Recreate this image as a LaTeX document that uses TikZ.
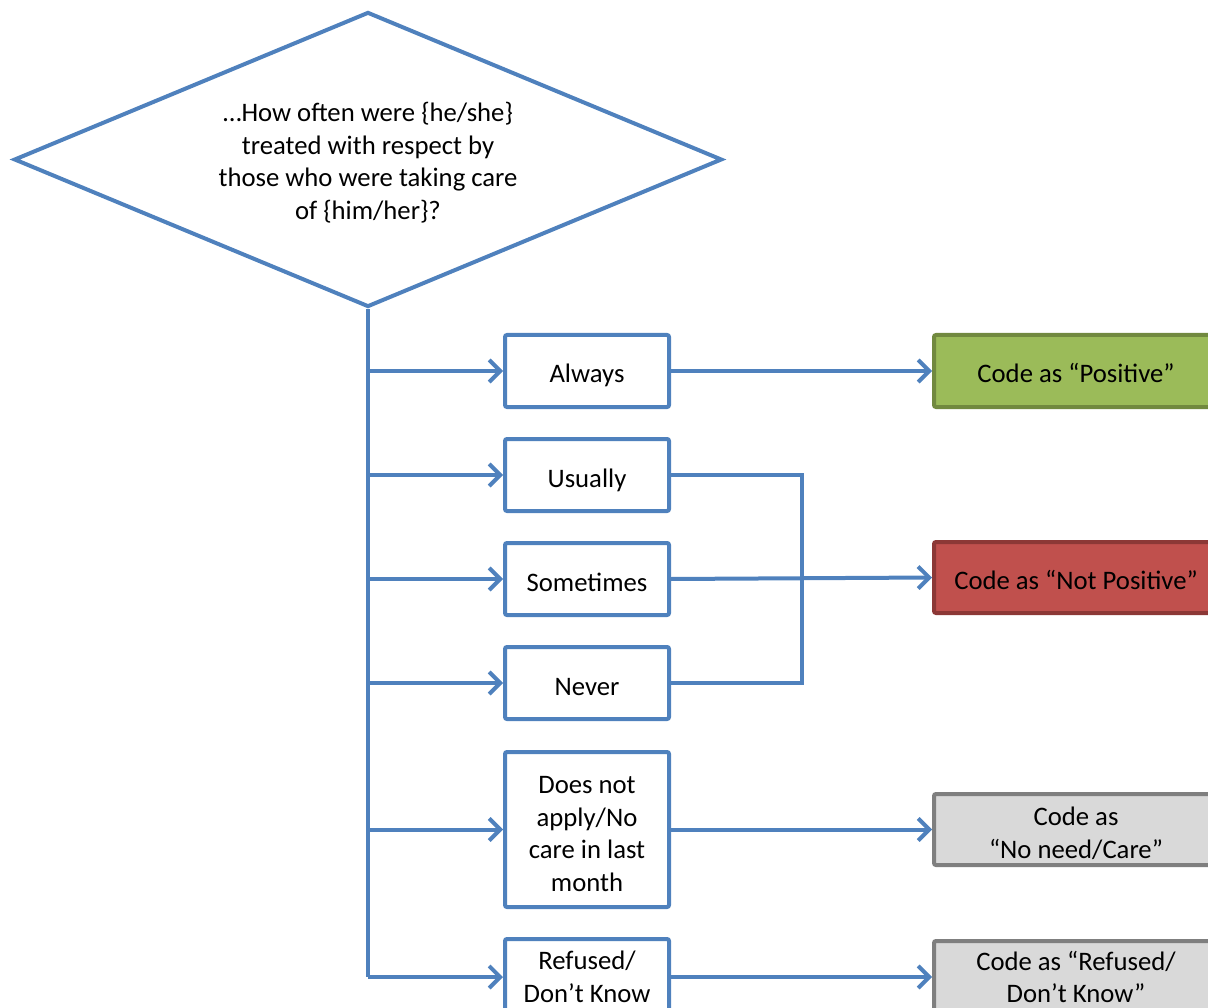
\documentclass[tikz,border=0pt]{standalone}
\usepackage{fontspec}
\setmainfont{Carlito}
\usetikzlibrary{arrows.meta,shapes.geometric}

\definecolor{flowblue}{HTML}{4F81BD}
\definecolor{posfill}{HTML}{9BBB59}
\definecolor{posline}{HTML}{71893F}
\definecolor{negfill}{HTML}{C0504D}
\definecolor{negline}{HTML}{8C3836}
\definecolor{nafill}{HTML}{D9D9D9}
\definecolor{naline}{HTML}{7F7F7F}

% strut that lowers the first line of a text block a little
\newcommand{\firstline}{\rule{0pt}{26pt}}

\tikzset{
  every node/.style={font=\fontsize{26.7}{32.5}\selectfont, align=center, inner sep=0pt},
  oneline/.style={text height=29pt, text depth=5pt},
  answer/.style={draw=flowblue, line width=4pt, rounded corners=2pt, fill=white,
                 minimum width=164pt},
  outcome/.style={line width=4pt, rounded corners=2pt, minimum width=284pt},
  flow/.style={draw=flowblue, line width=4pt},
  flowarrow/.style={flow, -{Straight Barb[length=11pt,width=22pt]}},
}

\begin{document}
\begin{tikzpicture}[x=1pt, y=-1pt]
  \useasboundingbox (0,0) rectangle (1208,1008);
  \clip (0,0) rectangle (1208,1008);

  % question
  \node[diamond, draw=flowblue, line width=4pt, aspect=2.4,
        minimum width=708pt, minimum height=295pt] (q) at (368,159.5)
    {\firstline…How often were \{he/she\}\\treated with respect by\\those who were taking care\\of \{him/her\}?};

  % answer boxes
  \node[answer, oneline, minimum height=72pt]  (alw) at (587,371) {Always};
  \node[answer, oneline, minimum height=72pt]  (usu) at (587,475) {Usually};
  \node[answer, oneline, minimum height=72pt]  (som) at (587,579) {Sometimes};
  \node[answer, oneline, minimum height=72pt]  (nev) at (587,683) {Never};
  \node[answer, minimum height=155pt] (dna) at (587,829.5) {\firstline Does not\\apply/No\\care in last\\month};
  \node[answer, minimum height=76pt]  (ref) at (587,977) {Refused/\\Don’t Know};

  % coding boxes
  \node[outcome, oneline, draw=posline, fill=posfill, minimum height=72pt] (pos) at (1076,371) {Code as “Positive”};
  \node[outcome, oneline, draw=negline, fill=negfill, minimum height=71pt] (neg) at (1076,577.5) {Code as “Not Positive”};
  \node[outcome, draw=naline, fill=nafill, minimum height=71pt]   (nnc) at (1076,829.5) {\firstline Code as\\“No need/Care”};
  \node[outcome, draw=naline, fill=nafill, minimum height=72pt]   (rdk) at (1076,977) {Code as “Refused/\\Don’t Know”};

  % trunk and branches
  \draw[flow] (q.south) -- (q.south |- ref.west);
  \foreach \a in {alw,usu,som,nev,dna,ref}
    \draw[flowarrow] (q.south |- \a.west) -- (\a.west);

  % answers to codes
  \coordinate (bx) at (802,579);
  \draw[flow] (usu.east) -| (bx) |- (nev.east);
  \draw[flowarrow] (alw.east) -- (pos.west);
  \draw[flowarrow] (som.east) -- (neg.west);
  \draw[flowarrow] (dna.east) -- (nnc.west);
  \draw[flowarrow] (ref.east) -- (rdk.west);
\end{tikzpicture}
\end{document}
